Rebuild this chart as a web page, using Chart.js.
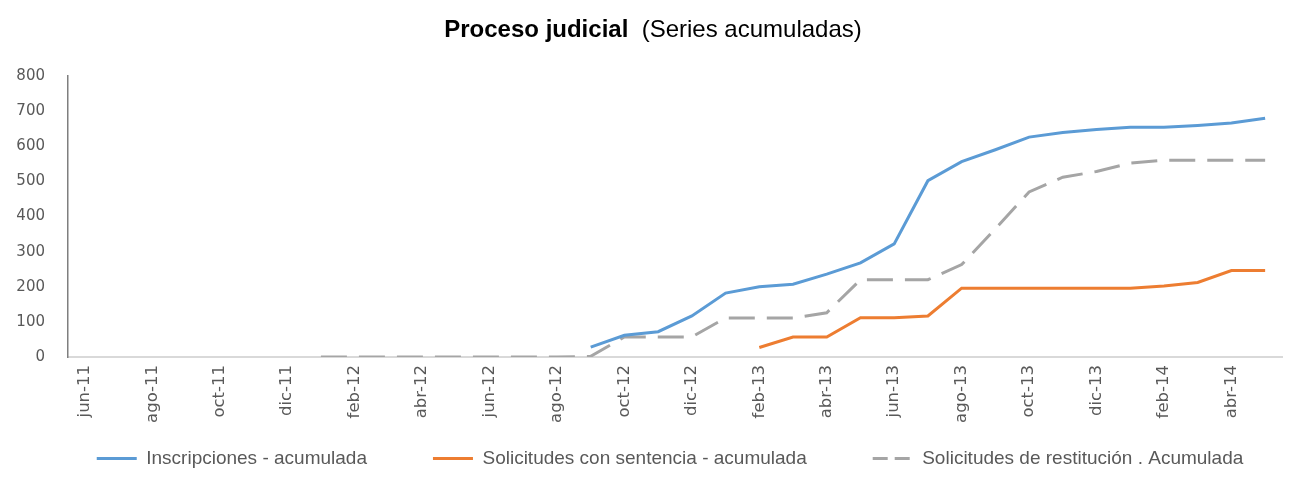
<!DOCTYPE html>
<html>
<head>
<meta charset="utf-8">
<script src="https://cdn.jsdelivr.net/npm/chart.js@4"></script>
<style>
  html, body { margin: 0; padding: 0; background: #fff; }
  #wrap { width: 1294px; height: 495px; }
</style>
</head>
<body>
<div id="wrap"><canvas id="grafico_proceso"></canvas></div>
<script>
// meses jun-11 .. may-14
const meses = ['jun-11', 'jul-11', 'ago-11', 'sep-11', 'oct-11', 'nov-11', 'dic-11',
    'ene-12', 'feb-12', 'mar-12', 'abr-12', 'may-12', 'jun-12', 'jul-12', 'ago-12', 'sep-12',
    'oct-12', 'nov-12', 'dic-12', 'ene-13', 'feb-13', 'mar-13', 'abr-13', 'may-13', 'jun-13',
    'jul-13', 'ago-13', 'sep-13', 'oct-13', 'nov-13', 'dic-13', 'ene-14', 'feb-14', 'mar-14',
    'abr-14', 'may-14'];

const inscripciones = [null, null, null, null, null, null, null, null, null, null, null, null,
    null, null, null, 28, 62, 72, 117, 182, 200, 207, 236, 268, 322, 502, 556, 590, 626, 639,
    648, 654, 654, 659, 666, 680];

const conSentencia = [null, null, null, null, null, null, null, null, null, null, null, null,
    null, null, null, null, null, null, null, null, 27, 57, 57, 112, 112, 117, 196, 196, 196,
    196, 196, 196, 202, 212, 246, 246];

const restitucion = [null, null, null, null, null, null, null, 0, 0, 0, 0, 0, 0, 0, 0, 2,
    57, 57, 57, 111, 111, 111, 126, 220, 220, 220, 263, 365, 470, 512, 528, 552, 560, 560,
    560, 560];

const ejeY = [0, 800, 100]; // min, max, paso

Chart.defaults.font.family = "'DejaVu Sans', sans-serif";
Chart.defaults.color = '#595959';

// titulo con parte en negrita
const tituloPlugin = {
    id: 'titulo',
    afterDraw(chart) {
        const ctx = chart.ctx;
        const bold = 'Proceso judicial';
        const normal = '  (Series acumuladas)';
        const fBold = "bold 24px 'Liberation Sans', sans-serif";
        const fNorm = "24px 'Liberation Sans', sans-serif";
        ctx.save();
        ctx.fillStyle = '#000';
        ctx.textBaseline = 'middle';
        ctx.font = fBold;
        const w1 = ctx.measureText(bold).width;
        ctx.font = fNorm;
        const w2 = ctx.measureText(normal).width;
        const x = chart.width / 2 + 6 - (w1 + w2) / 2;
        ctx.textAlign = 'left';
        ctx.font = fBold;
        ctx.fillText(bold, x, 30);
        ctx.font = fNorm;
        ctx.fillText(normal, x + w1, 30);
        ctx.restore();
    }
};

// leyenda un poco corrida a la derecha y abajo, como en el original
const leyendaPlugin = {
    id: 'leyendaPos',
    afterLayout(chart) {
        const lg = chart.legend;
        const pad = lg.options.labels.padding;
        lg.left += 29;
        lg.right += 29;
        lg.top = 449 - pad;
        lg.bottom = chart.height;
    }
};

new Chart(document.getElementById('grafico_proceso'), {
    type: 'line',
    data: {
        labels: meses,
        datasets: [{
            label: 'Inscripciones - acumulada',
            data: inscripciones,
            borderColor: '#5b9bd5',
            backgroundColor: '#5b9bd5',
            borderWidth: 3,
            pointRadius: 0,
            tension: 0
        }, {
            label: 'Solicitudes con sentencia - acumulada',
            data: conSentencia,
            borderColor: '#ed7d31',
            backgroundColor: '#ed7d31',
            borderWidth: 3,
            pointRadius: 0,
            tension: 0
        }, {
            label: 'Solicitudes de restitución . Acumulada',
            data: restitucion,
            borderColor: '#a5a5a5',
            backgroundColor: '#a5a5a5',
            borderWidth: 3,
            borderDash: [26, 12],
            pointRadius: 0,
            tension: 0
        }]
    },
    options: {
        responsive: true,
        maintainAspectRatio: false,
        animation: false,
        layout: {
            padding: { top: 76, left: 0, right: 12, bottom: 48 }
        },
        scales: {
            x: {
                offset: true,
                grid: { display: false, drawTicks: false },
                border: { display: true, color: '#d9d9d9', width: 2 },
                ticks: {
                    autoSkip: false,
                    minRotation: 90,
                    maxRotation: 90,
                    padding: 8,
                    font: { size: 16.5 },
                    callback: function (v, i) {
                        return i % 2 === 0 ? meses[i] : '';
                    }
                },
                afterFit: function (scale) { scale.height = 80; }
            },
            y: {
                min: ejeY[0],
                max: ejeY[1],
                grid: { display: false, drawTicks: false },
                border: { display: true, color: '#7f7f7f', width: 1.5 },
                ticks: {
                    stepSize: ejeY[2],
                    padding: 23,
                    font: { size: 15 }
                },
                afterFit: function (scale) { scale.width = 68; }
            }
        },
        plugins: {
            legend: {
                position: 'bottom',
                maxHeight: 10,
                labels: {
                    usePointStyle: true,
                    pointStyle: 'line',
                    pointStyleWidth: 40,
                    boxHeight: 14,
                    padding: 66,
                    color: '#595959',
                    font: { family: "'Liberation Sans', sans-serif", size: 19 },
                    generateLabels: function (chart) {
                        const items = Chart.defaults.plugins.legend.labels.generateLabels(chart);
                        items.forEach(function (it) {
                            const ds = chart.data.datasets[it.datasetIndex];
                            if (ds.borderDash) it.lineDash = [15, 7];
                        });
                        return items;
                    }
                }
            },
            tooltip: { enabled: false }
        }
    },
    plugins: [tituloPlugin, leyendaPlugin]
});
</script>
</body>
</html>
